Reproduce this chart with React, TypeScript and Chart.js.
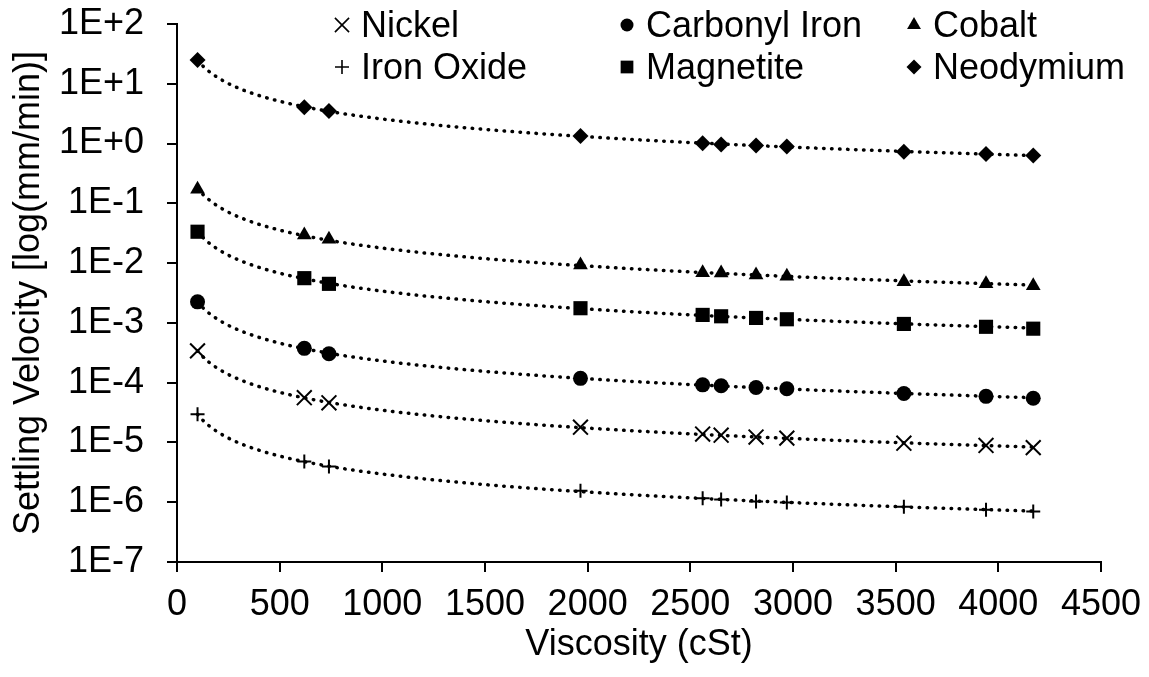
import React, { useEffect, useRef } from 'react';
import { Chart, registerables } from 'chart.js';
import { drawPoint } from 'chart.js/helpers';

Chart.register(...registerables);

// Kinematic viscosity of the carrier fluid (cSt)
const viscosity = [100, 620, 740, 1965, 2560, 2650, 2820, 2970, 3540, 3940, 4170];

// Settling velocity per particle type (mm/min)
const nickel = [3.4e-4, 5.6e-5, 4.6e-5, 1.8e-5, 1.38e-5, 1.32e-5, 1.23e-5, 1.18e-5, 9.7e-6, 8.9e-6, 8.2e-6];
const ironOxide = [2.95e-5, 4.8e-6, 3.95e-6, 1.55e-6, 1.17e-6, 1.11e-6, 1.03e-6, 9.9e-7, 8.4e-7, 7.5e-7, 7.0e-7];
const carbonylIron = [2.25e-3, 3.75e-4, 3.05e-4, 1.18e-4, 9.2e-5, 8.9e-5, 8.3e-5, 7.9e-5, 6.6e-5, 5.9e-5, 5.5e-5];
const magnetite = [3.35e-2, 5.6e-3, 4.5e-3, 1.76e-3, 1.36e-3, 1.29e-3, 1.21e-3, 1.15e-3, 9.6e-4, 8.6e-4, 8.0e-4];
const cobalt = [0.172, 0.0295, 0.025, 0.0093, 0.0069, 0.0068, 0.0063, 0.006, 0.0049, 0.0045, 0.0042];
const neodymium = [25, 4.05, 3.5, 1.34, 1.01, 0.96, 0.93, 0.89, 0.73, 0.67, 0.63];

// Axis ticks
const xMin = 0;
const xMax = 4500;
const xStep = 500;
const yTickValues = [1e-7, 1e-6, 1e-5, 1e-4, 1e-3, 1e-2, 1e-1, 1e0, 1e1, 1e2];
const yTickLabels = ['1E-7', '1E-6', '1E-5', '1E-4', '1E-3', '1E-2', '1E-1', '1E+0', '1E+1', '1E+2'];

const FONT_FAMILY = '"Liberation Sans", Arial, Helvetica, sans-serif';
const INK = '#000000';

type SeriesStyle = {
  label: string;
  values: number[];
  pointStyle: string;
  radius: number;
  legendRadius: number;
  stroke: number;
  legendCol: number;
  legendRow: number;
};

const series: SeriesStyle[] = [
  { label: 'Nickel', values: nickel, pointStyle: 'crossRot', radius: 10.5, legendRadius: 10, stroke: 2, legendCol: 0, legendRow: 0 },
  { label: 'Carbonyl Iron', values: carbonylIron, pointStyle: 'circle', radius: 7.5, legendRadius: 6.5, stroke: 0, legendCol: 1, legendRow: 0 },
  { label: 'Cobalt', values: cobalt, pointStyle: 'triangle', radius: 8.5, legendRadius: 8, stroke: 0, legendCol: 2, legendRow: 0 },
  { label: 'Iron Oxide', values: ironOxide, pointStyle: 'cross', radius: 7, legendRadius: 7, stroke: 2, legendCol: 0, legendRow: 1 },
  { label: 'Magnetite', values: magnetite, pointStyle: 'rect', radius: 10, legendRadius: 9, stroke: 0, legendCol: 1, legendRow: 1 },
  { label: 'Neodymium', values: neodymium, pointStyle: 'rectRot', radius: 8, legendRadius: 7.5, stroke: 0, legendCol: 2, legendRow: 1 },
];

// Least-squares power trend (y = a * x^b) fitted in log-log space
function powerTrend(xs: number[], ys: number[], samples = 160) {
  const n = xs.length;
  let sx = 0, sy = 0, sxx = 0, sxy = 0;
  for (let i = 0; i < n; i++) {
    const lx = Math.log(xs[i]);
    const ly = Math.log(ys[i]);
    sx += lx; sy += ly; sxx += lx * lx; sxy += lx * ly;
  }
  const b = (n * sxy - sx * sy) / (n * sxx - sx * sx);
  const a = Math.exp((sy - b * sx) / n);
  const x0 = xs[0];
  const x1 = xs[n - 1];
  const pts: { x: number; y: number }[] = [];
  for (let k = 0; k <= samples; k++) {
    const x = x0 + ((x1 - x0) * k) / samples;
    pts.push({ x, y: a * Math.pow(x, b) });
  }
  return pts;
}

// Two-row legend drawn above the plot
const LEGEND_COL_X = [342, 627, 914];
const LEGEND_ROW_BASE = [37, 79];
const legendPlugin = {
  id: 'gridLegend',
  afterDraw(chart: Chart) {
    const ctx = chart.ctx;
    ctx.save();
    ctx.fillStyle = INK;
    ctx.strokeStyle = INK;
    ctx.font = `36px ${FONT_FAMILY}`;
    ctx.textBaseline = 'alphabetic';
    ctx.textAlign = 'left';
    for (const s of series) {
      const mx = LEGEND_COL_X[s.legendCol];
      const base = LEGEND_ROW_BASE[s.legendRow];
      const my = base - 12;
      ctx.lineWidth = s.stroke ? 1.6 : 0;
      ctx.beginPath();
      drawPoint(ctx, { pointStyle: s.pointStyle as any, radius: s.legendRadius, rotation: 0, borderWidth: s.stroke ? 1.6 : 0 }, mx, my);
      ctx.fillStyle = INK;
      ctx.fillText(s.label, mx + 19, base);
    }
    ctx.restore();
  },
};

export default function App() {
  const canvasRef = useRef<HTMLCanvasElement | null>(null);

  useEffect(() => {
    const canvas = canvasRef.current;
    if (!canvas) return;

    const markerSets = series.map((s) => ({
      type: 'scatter' as const,
      label: s.label,
      data: viscosity.map((x, i) => ({ x, y: s.values[i] })),
      showLine: false,
      pointStyle: s.pointStyle,
      pointRadius: s.radius,
      pointBackgroundColor: INK,
      pointBorderColor: INK,
      pointBorderWidth: s.stroke,
    }));

    const trendSets = series.map((s) => ({
      type: 'line' as const,
      label: `${s.label} trend`,
      data: powerTrend(viscosity, s.values),
      showLine: true,
      borderColor: INK,
      borderWidth: 3.5,
      borderDash: [0.5, 7.5],
      borderCapStyle: 'round' as const,
      pointRadius: 0,
      fill: false,
      tension: 0,
    }));

    const tickFont = { family: FONT_FAMILY, size: 36 };

    const chart = new Chart(canvas, {
      type: 'scatter',
      data: { datasets: [...markerSets, ...trendSets] as any },
      options: {
        responsive: false,
        animation: false,
        devicePixelRatio: 1,
        events: [],
        layout: { padding: { top: 24, right: 48, left: 0, bottom: 0 } },
        plugins: {
          legend: { display: false },
          tooltip: { enabled: false },
          title: { display: false },
        },
        scales: {
          x: {
            type: 'linear',
            min: xMin,
            max: xMax,
            ticks: {
              stepSize: xStep,
              autoSkip: false,
              maxRotation: 0,
              color: INK,
              font: tickFont,
              padding: 11,
              callback: (v: any) => String(v),
            },
            grid: { drawOnChartArea: false, drawTicks: true, tickLength: 10, color: INK, lineWidth: 2 },
            border: { display: true, color: INK, width: 2 },
            title: {
              display: true,
              text: 'Viscosity (cSt)',
              color: INK,
              font: { family: FONT_FAMILY, size: 36, lineHeight: 1.2 },
              padding: { top: 4, bottom: 10 },
            },
            afterFit: (s: any) => {
              s.height = 115;
              s.paddingLeft = 0;
              s.paddingRight = 0;
            },
          },
          y: {
            type: 'logarithmic',
            min: yTickValues[0],
            max: yTickValues[yTickValues.length - 1],
            afterBuildTicks: (s: any) => { s.ticks = yTickValues.map((v) => ({ value: v })); },
            ticks: {
              autoSkip: false,
              color: INK,
              font: tickFont,
              padding: 23,
              callback: (_v: any, i: number) => yTickLabels[i],
            },
            grid: { drawOnChartArea: false, drawTicks: true, tickLength: 10, color: INK, lineWidth: 2 },
            border: { display: true, color: INK, width: 2 },
            title: {
              display: true,
              text: 'Settling Velocity [log(mm/min)]',
              color: INK,
              font: { family: FONT_FAMILY, size: 36, lineHeight: 1.2 },
              padding: { top: 7, bottom: 0 },
            },
            afterFit: (s: any) => {
              s.width = 177;
              s.paddingTop = 0;
              s.paddingBottom = 0;
            },
          },
        },
      },
      plugins: [legendPlugin],
    });

    return () => chart.destroy();
  }, []);

  return (
    <div style={{ position: 'fixed', left: 0, top: 0, width: 1149, height: 677, background: '#ffffff' }}>
      <canvas ref={canvasRef} width={1149} height={677} style={{ display: 'block' }} />
    </div>
  );
}
